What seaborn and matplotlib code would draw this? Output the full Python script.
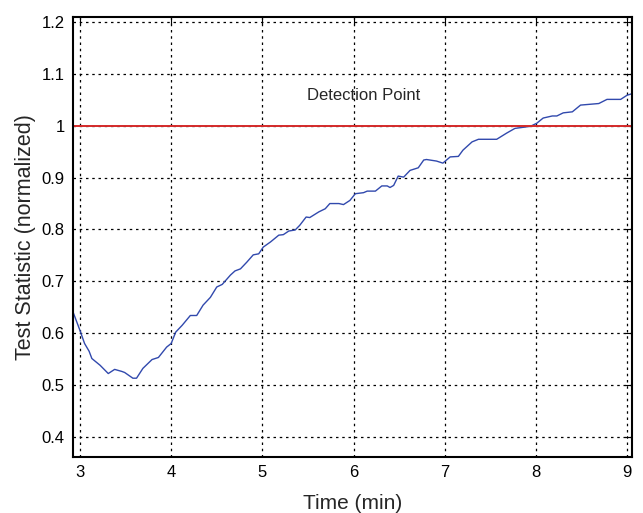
import matplotlib
matplotlib.use("Agg")
import matplotlib.pyplot as plt
import pandas as pd
import seaborn as sns

# values
time_min = [2.923, 3.0, 3.05, 3.1, 3.13, 3.22, 3.31, 3.38, 3.46, 3.49, 3.58, 3.62,
            3.69, 3.79, 3.86, 3.95, 4.0, 4.05, 4.12, 4.21, 4.28, 4.35, 4.43, 4.50,
            4.56, 4.65, 4.70, 4.76, 4.83, 4.90, 4.96, 5.01, 5.09, 5.18, 5.23, 5.29,
            5.36, 5.41, 5.48, 5.52, 5.62, 5.69, 5.74, 5.84, 5.89, 5.96, 6.02, 6.11,
            6.15, 6.24, 6.31, 6.37, 6.40, 6.44, 6.49, 6.55, 6.62, 6.71, 6.77, 6.80,
            6.91, 6.98, 7.06, 7.15, 7.20, 7.30, 7.37, 7.57, 7.68, 7.77, 7.94, 8.01,
            8.08, 8.18, 8.23, 8.30, 8.40, 8.49, 8.69, 8.78, 8.93, 9.0, 9.055]
statistic = [0.641, 0.605, 0.58, 0.565, 0.551, 0.538, 0.522, 0.530, 0.526, 0.524, 0.513, 0.513,
             0.532, 0.549, 0.553, 0.573, 0.580, 0.602, 0.615, 0.634, 0.634, 0.654, 0.669, 0.689,
             0.694, 0.712, 0.720, 0.724, 0.737, 0.751, 0.753, 0.766, 0.776, 0.789, 0.790, 0.797,
             0.799, 0.808, 0.824, 0.823, 0.834, 0.840, 0.850, 0.850, 0.848, 0.856, 0.869, 0.871,
             0.874, 0.874, 0.884, 0.884, 0.881, 0.885, 0.903, 0.901, 0.914, 0.919, 0.934, 0.935,
             0.932, 0.928, 0.940, 0.941, 0.953, 0.969, 0.974, 0.974, 0.986, 0.995, 0.999, 1.005,
             1.015, 1.019, 1.019, 1.025, 1.027, 1.040, 1.043, 1.051, 1.051, 1.059, 1.062]
threshold = 1.0
x_ticks = [3, 4, 5, 6, 7, 8, 9]
y_ticks = [0.4, 0.5, 0.6, 0.7, 0.8, 0.9, 1.0, 1.1, 1.2]
y_tick_labels = ["0.4", "0.5", "0.6", "0.7", "0.8", "0.9", "1", "1.1", "1.2"]

df = pd.DataFrame({"time": time_min, "stat": statistic})

sns.set_style("white")
plt.rcParams["font.family"] = ["Liberation Sans", "DejaVu Sans"]

fig = plt.figure(figsize=(6.43, 5.13), dpi=100)
ax = fig.add_axes([0.1135, 0.1092, 0.8695, 0.8577])

sns.lineplot(data=df, x="time", y="stat", ax=ax, color="#3149ad", linewidth=1.0)
ax.axhline(threshold, color="#d42a2a", linewidth=1.4)
ax.text(6.11, 1.059, "Detection Point", ha="center", va="center", fontsize=12)

ax.set_xlim(2.923, 9.055)
ax.set_ylim(0.361, 1.21)
ax.set_xticks(x_ticks)
ax.set_yticks(y_ticks)
ax.set_yticklabels(y_tick_labels)
ax.grid(True, color="black", linestyle=(0, (2, 3)), linewidth=0.9)
ax.tick_params(direction="in", length=5, width=0.8, top=True, right=True,
               labelsize=12, pad=6, colors="black")
for s in ax.spines.values():
    s.set_color("black")
    s.set_linewidth(1.5)
ax.set_xlabel("Time (min)", fontsize=15, labelpad=10)
ax.set_ylabel("Test Statistic (normalized)", fontsize=15.5, labelpad=4)

fig.savefig("out.png", dpi=100)
